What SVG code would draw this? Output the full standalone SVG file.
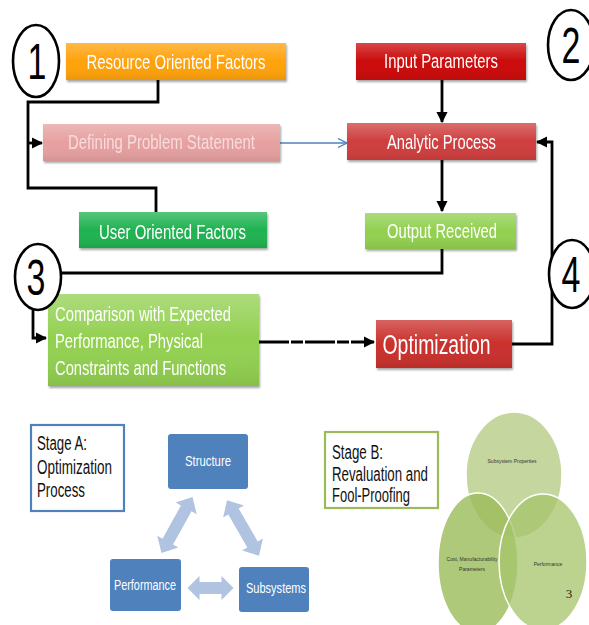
<svg xmlns="http://www.w3.org/2000/svg" width="589" height="625" viewBox="0 0 589 625">
<defs>
<style>
.t{font-family:"Liberation Sans Narrow","Liberation Sans",Arial,sans-serif;text-anchor:middle;fill:#fff}
.tl{font-family:"Liberation Sans Narrow","Liberation Sans",Arial,sans-serif;fill:#fff}
.blk{font-family:"Liberation Sans Narrow","Liberation Sans",Arial,sans-serif;fill:#111}
.num{font-family:"Liberation Sans","DejaVu Sans",sans-serif;text-anchor:middle;fill:#000;font-size:50px}
.ln{fill:none;stroke:#000;stroke-width:2.8}
.circ{fill:#fff;stroke:#000;stroke-width:2.6}
.sm{font-family:"Liberation Sans",Arial,sans-serif;text-anchor:middle;fill:#333;font-size:5px}
</style>
<linearGradient id="gl" x1="0" y1="0" x2="0" y2="1">
<stop offset="0" stop-color="#fff" stop-opacity="0.25"/>
<stop offset="0.5" stop-color="#fff" stop-opacity="0"/>
<stop offset="1" stop-color="#000" stop-opacity="0.08"/>
</linearGradient>
<filter id="sh" x="-10%" y="-20%" width="120%" height="150%">
<feDropShadow dx="1" dy="2" stdDeviation="1.2" flood-color="#000" flood-opacity="0.35"/>
</filter>
<marker id="ah" viewBox="0 0 10 10" refX="9" refY="5" markerWidth="4" markerHeight="4" orient="auto" markerUnits="strokeWidth">
<path d="M0,0 L10,5 L0,10 z" fill="#000"/>
</marker>
<marker id="ahb" viewBox="0 0 10 10" refX="9" refY="5" markerWidth="7" markerHeight="7" orient="auto" markerUnits="strokeWidth">
<path d="M0,0 L10,5 L0,10" fill="none" stroke="#4f81bd" stroke-width="1.5"/>
</marker>
</defs>
<rect width="589" height="625" fill="#fff"/>

<g id="connectors">
<path class="ln" d="M158,80 V102 H28 V188 H156 V212"/>
<path class="ln" d="M28,143 H42" marker-end="url(#ah)"/>
<path d="M280,143 H346" fill="none" stroke="#4f81bd" stroke-width="1.3" marker-end="url(#ahb)"/>
<path class="ln" d="M442,80 V122" marker-end="url(#ah)"/>
<path class="ln" d="M442,160 V211" marker-end="url(#ah)"/>
<path class="ln" d="M442,249 V273 H58"/>
<path class="ln" d="M33,308 V338 H46" marker-end="url(#ah)"/>
<path class="ln" d="M259,342 H374" stroke-dasharray="30 2 12 2" marker-end="url(#ah)"/>
<path class="ln" d="M512,344 H552 V142 H537" marker-end="url(#ah)"/>
</g>

<g id="circle1"><ellipse class="circ" cx="36" cy="61" rx="23" ry="36"/><text class="num" x="37" y="79" transform="translate(37 0) scale(0.68 1) translate(-37 0)">1</text></g>
<g id="circle2"><ellipse class="circ" cx="571" cy="45" rx="23" ry="35"/><text class="num" x="571" y="63" transform="translate(571 0) scale(0.68 1) translate(-571 0)">2</text></g>
<g id="circle4"><ellipse class="circ" cx="572" cy="274" rx="23" ry="34"/><text class="num" x="571" y="292" transform="translate(571 0) scale(0.68 1) translate(-571 0)">4</text></g>

<g id="resource" filter="url(#sh)"><rect x="66" y="43" width="220" height="37" fill="#ffa20a"/><rect x="66" y="43" width="220" height="37" fill="url(#gl)"/><text class="t" x="176" y="69" font-size="21" textLength="179" lengthAdjust="spacingAndGlyphs">Resource Oriented Factors</text></g>
<g id="defining" filter="url(#sh)"><rect x="43" y="124" width="237" height="37" fill="#e6a0a0"/><rect x="43" y="124" width="237" height="37" fill="url(#gl)"/><text class="t" x="161.5" y="149" font-size="21" textLength="187" lengthAdjust="spacingAndGlyphs" style="fill:#f8dcdc">Defining Problem Statement</text></g>
<g id="user" filter="url(#sh)"><rect x="79" y="212" width="188" height="36" fill="#1fb250"/><rect x="79" y="212" width="188" height="36" fill="url(#gl)"/><text class="t" x="172.5" y="239" font-size="21" textLength="147" lengthAdjust="spacingAndGlyphs">User Oriented Factors</text></g>
<g id="input" filter="url(#sh)"><rect x="356" y="43" width="170" height="37" fill="#cc0a0a"/><rect x="356" y="43" width="170" height="37" fill="url(#gl)"/><text class="t" x="441" y="68" font-size="20" textLength="114" lengthAdjust="spacingAndGlyphs">Input Parameters</text></g>
<g id="analytic" filter="url(#sh)"><rect x="347" y="123" width="189" height="37" fill="#cf3e3e"/><rect x="347" y="123" width="189" height="37" fill="url(#gl)"/><text class="t" x="441.5" y="149" font-size="21" textLength="109" lengthAdjust="spacingAndGlyphs">Analytic Process</text></g>
<g id="output" filter="url(#sh)"><rect x="365" y="213" width="151" height="36" fill="#92d050"/><rect x="365" y="213" width="151" height="36" fill="url(#gl)"/><text class="t" x="442" y="238" font-size="21" textLength="110" lengthAdjust="spacingAndGlyphs">Output Received</text></g>
<g id="comparison" filter="url(#sh)"><rect x="48" y="294" width="211" height="92" fill="#92d050"/><rect x="48" y="294" width="211" height="92" fill="url(#gl)"/>
<text class="tl" x="55" y="321" font-size="20" textLength="176" lengthAdjust="spacingAndGlyphs">Comparison with Expected</text>
<text class="tl" x="55" y="348" font-size="20" textLength="148" lengthAdjust="spacingAndGlyphs">Performance, Physical</text>
<text class="tl" x="55" y="375" font-size="20" textLength="171" lengthAdjust="spacingAndGlyphs">Constraints and Functions</text></g>
<g id="optimization" filter="url(#sh)"><rect x="376" y="320" width="136" height="48" fill="#c9302c"/><rect x="376" y="320" width="136" height="48" fill="url(#gl)"/><text class="t" x="436.5" y="354" font-size="27" textLength="108" lengthAdjust="spacingAndGlyphs">Optimization</text></g>

<g id="circle3"><ellipse class="circ" cx="38" cy="277" rx="23" ry="33"/><text class="num" x="36" y="295" transform="translate(36 0) scale(0.68 1) translate(-36 0)">3</text></g>

<g id="stageA"><rect x="31" y="425" width="93" height="86" fill="#fff" stroke="#4f81bd" stroke-width="2.2"/>
<text class="blk" x="37" y="450" font-size="20" textLength="50" lengthAdjust="spacingAndGlyphs">Stage A:</text>
<text class="blk" x="37" y="474" font-size="20" textLength="75" lengthAdjust="spacingAndGlyphs">Optimization</text>
<text class="blk" x="37" y="497" font-size="20" textLength="48" lengthAdjust="spacingAndGlyphs">Process</text></g>

<g id="triArrows" fill="#b0c3e0">
<polygon points="0,-6 19,-6 19,-12 32,0 19,12 19,6 0,6 -19,6 -19,12 -32,0 -19,-12 -19,-6" transform="translate(177 525) rotate(-61)"/>
<polygon points="0,-6 19,-6 19,-12 32,0 19,12 19,6 0,6 -19,6 -19,12 -32,0 -19,-12 -19,-6" transform="translate(243 528) rotate(60)"/>
<polygon points="0,-6 11,-6 11,-12 23,0 11,12 11,6 0,6 -11,6 -11,12 -23,0 -11,-12 -11,-6" transform="translate(210.5 588)"/>
</g>
<g id="structure"><rect x="168" y="434" width="80" height="55" rx="3" fill="#4f81bd"/><text class="t" x="208" y="466" font-size="14" textLength="46" lengthAdjust="spacingAndGlyphs">Structure</text></g>
<g id="performance"><rect x="110" y="559" width="71" height="52" rx="3" fill="#4f81bd"/><text class="t" x="145" y="590" font-size="14" textLength="62" lengthAdjust="spacingAndGlyphs">Performance</text></g>
<g id="subsystems"><rect x="239" y="567" width="70" height="45" rx="3" fill="#4f81bd"/><text class="t" x="276" y="593" font-size="14" textLength="60" lengthAdjust="spacingAndGlyphs">Subsystems</text></g>

<g id="stageB"><rect x="325" y="432" width="113" height="76" fill="#fff" stroke="#9bbb59" stroke-width="2.2"/>
<text class="blk" x="332" y="459" font-size="20" textLength="51" lengthAdjust="spacingAndGlyphs">Stage B:</text>
<text class="blk" x="332" y="481" font-size="20" textLength="96" lengthAdjust="spacingAndGlyphs">Revaluation and</text>
<text class="blk" x="332" y="502" font-size="20" textLength="78" lengthAdjust="spacingAndGlyphs">Fool-Proofing</text></g>

<g id="venn">
<ellipse cx="514" cy="475" rx="48" ry="63" fill="#c5d79e" stroke="#fff" stroke-width="1.5"/>
<ellipse cx="478" cy="563" rx="40" ry="70" fill="#9bbb59" fill-opacity="0.8" stroke="#fff" stroke-width="1.5"/>
<ellipse cx="543" cy="562" rx="44" ry="68" fill="#a4c46a" fill-opacity="0.75" stroke="#fff" stroke-width="1.5"/>
<text class="sm" x="512" y="463">Subsystem Properties</text>
<text class="sm" x="472" y="561">Cost, Manufacturability</text>
<text class="sm" x="472" y="571">Parameters</text>
<text class="sm" x="548" y="566">Performance</text>
<text x="569" y="598" font-family="Liberation Serif,serif" font-size="13" fill="#222" text-anchor="middle">3</text>
</g>
</svg>
